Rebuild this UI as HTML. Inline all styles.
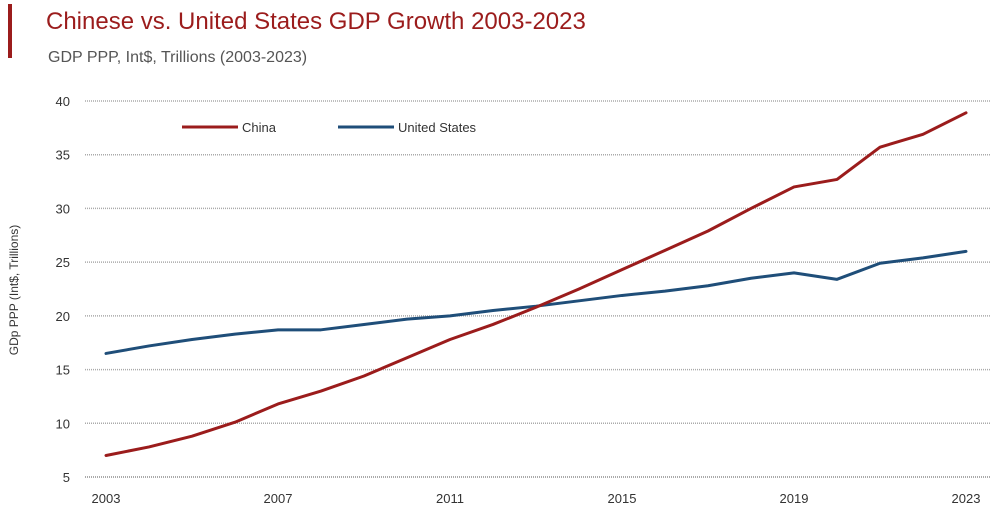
<!DOCTYPE html>
<html><head><meta charset="utf-8"><style>
body{margin:0;background:#fff;width:1000px;height:525px;overflow:hidden;font-family:"Liberation Sans",sans-serif}
</style></head><body>
<svg width="1000" height="525" xmlns="http://www.w3.org/2000/svg">
<rect x="8" y="4" width="4" height="54" fill="#9b1c1c"/>
<text x="46" y="29" font-size="24" fill="#9b1c1c">Chinese vs. United States GDP Growth 2003-2023</text>
<text x="48" y="62" font-size="16" fill="#555">GDP PPP, Int$, Trillions (2003-2023)</text>
<text transform="translate(18,290) rotate(-90)" text-anchor="middle" font-size="12" fill="#333">GDp PPP (Int$, Trillions)</text>
<g id="grid"></g><g id="yt"></g><g id="xt"></g><g id="lines"></g>
<g>
<line x1="182" y1="127" x2="238" y2="127" stroke="#9b1c1c" stroke-width="3"/>
<text x="242" y="132" font-size="13" fill="#333">China</text>
<line x1="338" y1="127" x2="394" y2="127" stroke="#1f4e79" stroke-width="3"/>
<text x="398" y="132" font-size="13" fill="#333">United States</text>
</g>
</svg>
<script>
const years=[2003,2004,2005,2006,2007,2008,2009,2010,2011,2012,2013,2014,2015,2016,2017,2018,2019,2020,2021,2022,2023];
const china=[7.0,7.8,8.8,10.1,11.8,13.0,14.4,16.1,17.8,19.2,20.8,22.5,24.3,26.1,27.9,30.0,32.0,32.7,35.7,36.9,38.9];
const us=[16.5,17.2,17.8,18.3,18.7,18.7,19.2,19.7,20.0,20.5,20.9,21.4,21.9,22.3,22.8,23.5,24.0,23.4,24.9,25.4,26.0];
const yTicks=[5,10,15,20,25,30,35,40];
const xTicks=[2003,2007,2011,2015,2019,2023];
const NS='http://www.w3.org/2000/svg';
const X=v=>106+(v-2003)*(966-106)/20;
const Y=v=>477-(v-5)*(477-101)/35;
function mk(t,a,p){const e=document.createElementNS(NS,t);for(const k in a)e.setAttribute(k,a[k]);document.getElementById(p).appendChild(e);return e;}
yTicks.forEach(v=>{
 const l=mk('line',{x1:85,x2:990,y1:Y(v),y2:Y(v),stroke:'#aaa','stroke-width':v===5?2:1.5,'stroke-dasharray':'1 1'},'grid');
 
 
 const t=mk('text',{x:70,y:Y(v)+5,'font-size':13,fill:'#333','text-anchor':'end'},'yt');t.textContent=v;
 
 
});
xTicks.forEach(v=>{
 const t=mk('text',{x:X(v),y:503,'font-size':13,fill:'#333','text-anchor':'middle'},'xt');t.textContent=v;
 
 
});
function line(d,c,n){
 const p=mk('polyline',{points:d.map((v,i)=>X(years[i])+','+Y(v)).join(' '),fill:'none',stroke:c,'stroke-width':3,'stroke-linejoin':'round','stroke-linecap':'round'},'lines');
 
 
}
line(us,'#1f4e79','us-line');
line(china,'#9b1c1c','china-line');
</script>
</body></html>
